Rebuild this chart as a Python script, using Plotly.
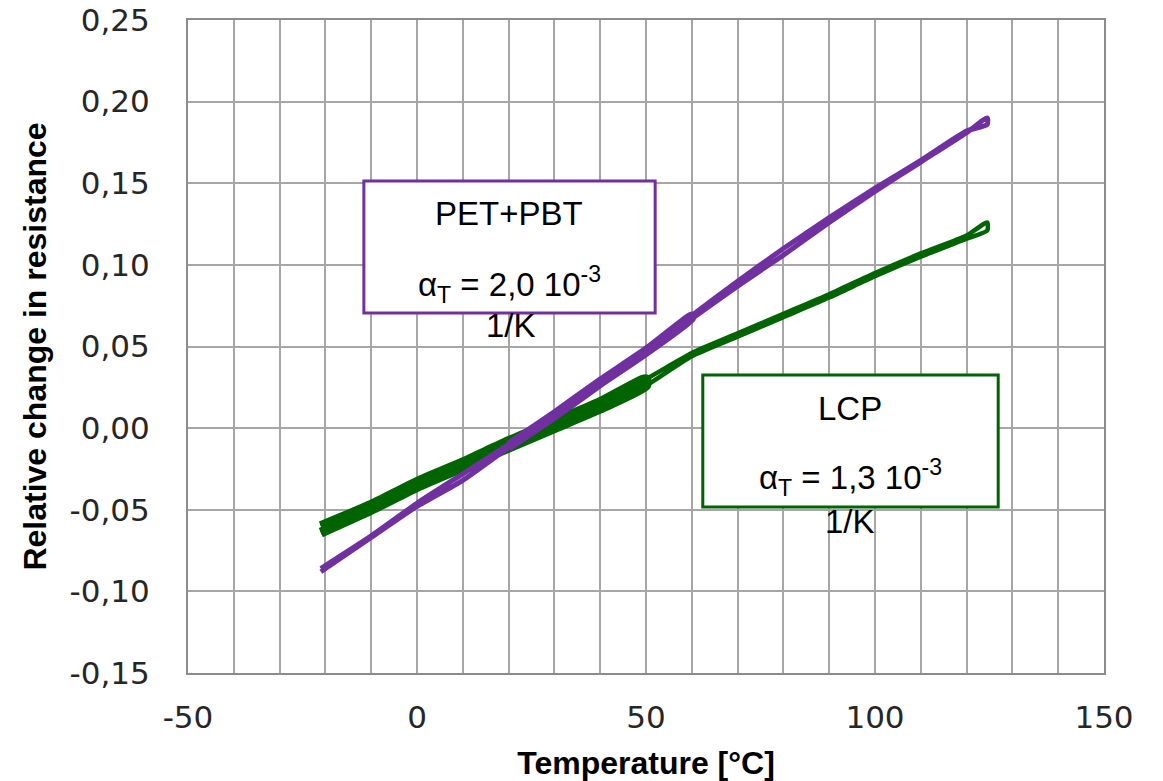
import plotly.graph_objects as go

# ---- data ----
temps = [-21, -10, 0, 10, 20, 30, 40, 50, 60, 70, 80, 90, 100, 110, 120, 124.5]

pet_heat = [-0.088, -0.067, -0.048, -0.032, -0.012, 0.007, 0.027, 0.046, 0.067, 0.087,
            0.106, 0.126, 0.145, 0.163, 0.181, 0.190]
pet_cool = [-0.086, -0.066, -0.046, -0.028, -0.010, 0.009, 0.029, 0.048, 0.069, 0.090,
            0.110, 0.129, 0.147, 0.164, 0.182, 0.186]

lcp_heat = [-0.060, -0.047, -0.033, -0.021, -0.008, 0.004, 0.016, 0.030, 0.046, 0.058,
            0.070, 0.082, 0.095, 0.107, 0.118, 0.126]
lcp_cool = [-0.064, -0.050, -0.036, -0.024, -0.012, 0.000, 0.012, 0.026, 0.044, 0.056,
            0.068, 0.080, 0.093, 0.105, 0.116, 0.121]

x_ticks = [-50, 0, 50, 100, 150]
y_ticks = [-0.15, -0.10, -0.05, 0.00, 0.05, 0.10, 0.15, 0.20, 0.25]
y_tick_text = ["-0,15", "-0,10", "-0,05", "0,00", "0,05", "0,10", "0,15", "0,20", "0,25"]

PURPLE = "#7030A0"
GREEN = "#006400"

def loop(t, up, down, lo=0, hi=None):
    hi = len(t) if hi is None else hi
    xs = list(t[lo:hi]) + list(t[lo:hi])[::-1]
    ys = list(up[lo:hi]) + list(down[lo:hi])[::-1]
    return xs, ys

fig = go.Figure()

# LCP: thick band from repeated cycles in the lower range, thinner full cycle
x, y = loop(temps, lcp_heat, lcp_cool, 0, 8)
fig.add_trace(go.Scatter(x=x, y=y, mode="lines",
                         line=dict(color=GREEN, width=10, shape="spline", smoothing=0.6),
                         name="LCP", showlegend=False))
x, y = loop(temps, lcp_heat, lcp_cool)
fig.add_trace(go.Scatter(x=x, y=y, mode="lines",
                         line=dict(color=GREEN, width=4.5, shape="spline", smoothing=0.6),
                         name="LCP", showlegend=False))

# PET+PBT
x, y = loop(temps, pet_heat, pet_cool, 4, 9)
fig.add_trace(go.Scatter(x=x, y=y, mode="lines",
                         line=dict(color=PURPLE, width=8, shape="spline", smoothing=0.6),
                         name="PET+PBT", showlegend=False))
x, y = loop(temps, pet_heat, pet_cool)
fig.add_trace(go.Scatter(x=x, y=y, mode="lines",
                         line=dict(color=PURPLE, width=5, shape="spline", smoothing=0.6),
                         name="PET+PBT", showlegend=False))

GRID = "#A6A6A6"
TICKFONT = dict(family="DejaVu Sans", size=31, color="#262626")
TITLEFONT = dict(family="Liberation Sans", size=32, color="black", weight="bold")
ANNFONT = dict(family="Liberation Sans", size=33, color="black")

fig.update_layout(
    width=1163, height=781,
    margin=dict(l=188, r=59, t=20, b=108),
    paper_bgcolor="white", plot_bgcolor="white",
    showlegend=False,
    xaxis=dict(
        range=[-50, 150], tickvals=x_ticks, ticktext=[str(v) for v in x_ticks],
        showgrid=True, gridcolor=GRID, gridwidth=1.5,
        minor=dict(dtick=10, showgrid=True, gridcolor=GRID, gridwidth=1.5),
        showline=True, linecolor="#8C8C8C", linewidth=2, mirror=True,
        zeroline=False, ticks="", tickfont=TICKFONT, ticklabelstandoff=16,
        title=dict(text="Temperature [°C]", font=TITLEFONT, standoff=20),
        automargin=False,
    ),
    yaxis=dict(
        range=[-0.15, 0.25], tickvals=y_ticks, ticktext=y_tick_text,
        showgrid=True, gridcolor=GRID, gridwidth=1.5,
        showline=True, linecolor="#8C8C8C", linewidth=2, mirror=True,
        zeroline=False, ticks="", tickfont=TICKFONT, ticklabelstandoff=30,
        title=dict(text="Relative change in resistance", font=TITLEFONT, standoff=13),
        automargin=False,
    ),
)

# text boxes
fig.add_shape(type="rect", x0=-11.6, x1=52.0, y0=0.0705, y1=0.1514,
              line=dict(color=PURPLE, width=3), fillcolor="white", layer="above")
fig.add_shape(type="rect", x0=62.4, x1=126.9, y0=-0.0483, y1=0.0325,
              line=dict(color=GREEN, width=3), fillcolor="white", layer="above")

anns = [
    (20.1, 0.1312, "PET+PBT"),
    (20.1, 0.0880, "α<sub>T</sub> = 2,0 10<sup>-3</sup>"),
    (20.5, 0.0626, "1/K"),
    (94.5, 0.0123, "LCP"),
    (94.6, -0.0300, "α<sub>T</sub> = 1,3 10<sup>-3</sup>"),
    (94.6, -0.0569, "1/K"),
]
for ax_, ay_, txt in anns:
    fig.add_annotation(x=ax_, y=ay_, text=txt, showarrow=False, font=ANNFONT,
                       xanchor="center", yanchor="middle")

fig.write_html("out.html")
